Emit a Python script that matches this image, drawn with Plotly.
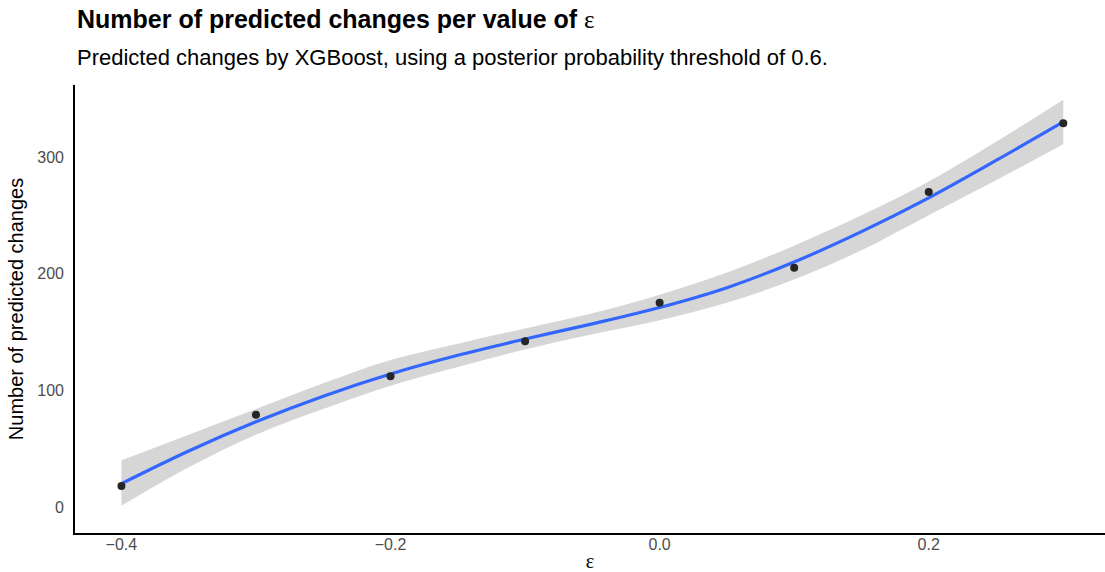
import plotly.graph_objects as go

# observed points
eps = [-0.4, -0.3, -0.2, -0.1, 0.0, 0.1, 0.2, 0.3]
n_changes = [18, 79, 112, 142, 175, 205, 270, 329]

# smoothed fit and confidence band
smooth_x = [-0.4, -0.35, -0.3, -0.25, -0.2, -0.15, -0.1, -0.05, 0.0, 0.05, 0.1, 0.15, 0.2, 0.25, 0.3]
smooth_y = [20, 48, 73, 95, 114, 130, 144, 157, 171, 188, 210, 236, 265, 297, 330]
band_hi = [40, 62, 84, 106, 126, 140, 153, 166, 182, 201, 224, 250, 279, 313, 349]
band_lo = [1, 34, 62, 84, 104, 120, 135, 148, 160, 175, 195, 220, 250, 280, 311]

x_ticks = [-0.4, -0.2, 0.0, 0.2]
x_tick_text = ["\u22120.4", "\u22120.2", "0.0", "0.2"]
y_ticks = [0, 100, 200, 300]

FONT = "Liberation Sans, Arial, sans-serif"
SERIF = "Liberation Serif, DejaVu Serif, serif"

fig = go.Figure()
fig.add_trace(go.Scatter(x=smooth_x, y=band_hi, mode="lines", line=dict(width=0, shape="spline"),
                         hoverinfo="skip", showlegend=False))
fig.add_trace(go.Scatter(x=smooth_x, y=band_lo, mode="lines", line=dict(width=0, shape="spline"),
                         fill="tonexty", fillcolor="rgba(153,153,153,0.4)", hoverinfo="skip", showlegend=False))
fig.add_trace(go.Scatter(x=smooth_x, y=smooth_y, mode="lines",
                         line=dict(color="#3366FF", width=3.2, shape="spline"), showlegend=False))
fig.add_trace(go.Scatter(x=eps, y=n_changes, mode="markers",
                         marker=dict(color="#262626", size=8), showlegend=False))

H_PLOT = 572 - 85 - 39

def py(pix):
    return (533 - pix) / H_PLOT

fig.update_layout(
    width=1105, height=572,
    margin=dict(l=75, r=0, t=85, b=39),
    paper_bgcolor="white", plot_bgcolor="white",
    font=dict(family=FONT, color="black"),
    xaxis=dict(range=[-0.4345, 0.331], showgrid=False, zeroline=False,
               showline=True, linecolor="black", linewidth=1.6,
               tickvals=x_ticks, ticktext=x_tick_text, ticks="",
               tickfont=dict(size=16, color="#4d4d4d"), ticklabelstandoff=-4,
               title=dict(text="\u03b5", font=dict(size=20, family=SERIF), standoff=2)),
    yaxis=dict(range=[-22.3, 361.7], showgrid=False, zeroline=False,
               showline=True, linecolor="black", linewidth=1.6,
               tickvals=y_ticks, ticks="", ticklen=0,
               tickfont=dict(size=16, color="#4d4d4d"), ticklabelstandoff=6,
               title=dict(text="Number of predicted changes", font=dict(size=20), standoff=8)),
    annotations=[
        dict(xref="paper", yref="paper", x=0, y=py(19), xanchor="left", yanchor="middle",
             showarrow=False,
             text="<b>Number of predicted changes per value of </b><span style='font-family:Liberation Serif, serif'>\u03b5</span>",
             font=dict(size=25, color="black")),
        dict(xref="paper", yref="paper", x=0, y=py(58), xanchor="left", yanchor="middle",
             showarrow=False,
             text="Predicted changes by XGBoost, using a posterior probability threshold of 0.6.",
             font=dict(size=22, color="black")),
    ],
)

fig.write_html("out.html")
